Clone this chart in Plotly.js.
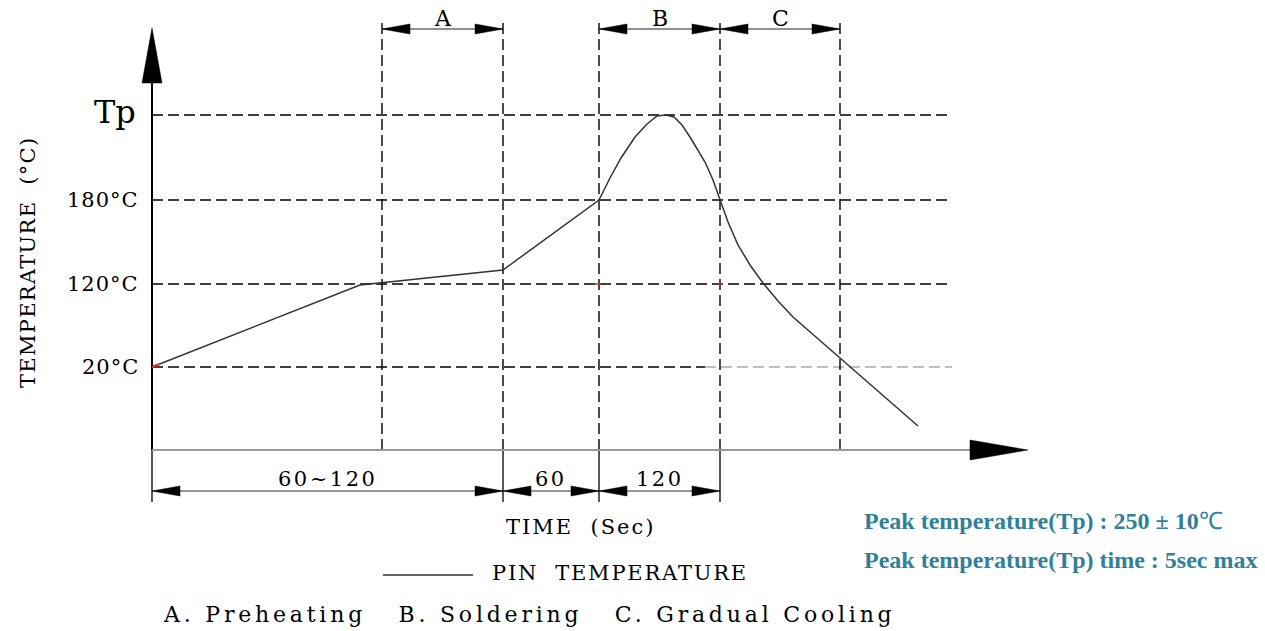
<!DOCTYPE html>
<html><head><meta charset="utf-8">
<script src="https://cdn.plot.ly/plotly-3.0.1.min.js"></script>
<style>html,body{margin:0;padding:0;background:#fff;} #chart{width:1265px;height:631px;}</style>
</head><body><div id="chart"></div>
<script>
// Diagram units: x = distance from time origin, y = height above time axis (schematic, not to scale)
const profileX = [0, 208, 351, 447, 458, 469, 483, 495, 505, 514, 522, 530, 538, 553, 561, 568, 576, 586, 598, 611, 626, 641, 663, 688, 766];
const profileY = [83, 165, 180, 250, 272, 292, 313, 326, 334, 335, 333, 325, 313, 288, 270, 250, 228, 205, 185, 167, 149, 133, 114, 92, 24];
const levelNames = ['20°C', '120°C', '180°C', 'Tp'];
const levelY = [83, 166, 250, 335];
const phaseX = [230, 351, 447, 568, 688];
const phaseNames = ['A', 'B', 'C'];
const phaseStart = [230, 447, 568];
const phaseEnd = [351, 568, 688];
const durationLabels = ['60~120', '60', '120'];
const durationStart = [0, 351, 447];
const durationEnd = [351, 447, 568];
const legendName = 'PIN TEMPERATURE';
const phaseLegend = 'A.\u00a0Preheating\u00a0\u00a0\u00a0B.\u00a0Soldering\u00a0\u00a0\u00a0C.\u00a0Gradual\u00a0Cooling';
const peakNotes = ['Peak temperature(Tp) : 250 ± 10<span style="font-weight:normal">℃</span>', 'Peak temperature(Tp) time : 5sec max'];
const xAxisTitle = 'TIME\u00a0\u00a0(Sec)';
const yAxisTitle = 'TEMPERATURE\u00a0\u00a0(°C)';

const FONT = 'DejaVu Serif, Liberation Serif, serif';
const DASH = '11px,5px';
const gridEnd = 800, grayStart = 553, topY = 428;
const shapes = [];
const annotations = [];
function seg(x0, y0, x1, y1, color, width, dash, layer) {
  shapes.push({type: 'line', xref: 'x', yref: 'y', x0, y0, x1, y1,
    line: {color, width, dash: dash || 'solid'}, layer: layer || 'above'});
}
function head(tx, ty, dx, dy, len, hw, color) {
  const bx = tx - dx * len, by = ty - dy * len, px = -dy, py = dx;
  shapes.push({type: 'path', xref: 'x', yref: 'y',
    path: `M${tx},${ty} L${bx + px * hw},${by + py * hw} L${bx - px * hw},${by - py * hw} Z`,
    fillcolor: color, line: {color, width: 0.5}, layer: 'above'});
}
function label(text, x, y, opts) {
  opts = opts || {};
  const ls = opts.ls;
  annotations.push({xref: 'x', yref: 'y', x, y, showarrow: false,
    text: ls ? `<span style="letter-spacing:${ls}px">${text}</span>` : text,
    xanchor: opts.xanchor || 'center', yanchor: 'middle', textangle: opts.angle || 0,
    font: {family: opts.family || FONT, size: opts.size || 20, color: opts.color || '#000',
      weight: opts.weight || 'normal'}});
}

// gridlines
levelY.forEach((y, i) => {
  if (i === 0) {
    seg(0, y, grayStart, y, '#000', 1.4, DASH, 'below');
    seg(grayStart, y, gridEnd, y, '#aaaaaa', 1.6, DASH, 'below');
  } else seg(0, y, gridEnd, y, '#000', 1.4, DASH, 'below');
  label(levelNames[i], i === 3 ? -14 : -11, y + (i === 3 ? 3 : 0),
    {xanchor: 'right', size: i === 3 ? 32 : 21, ls: i === 3 ? 0 : 1});
});
// phase boundaries
phaseX.forEach(x => seg(x, 0, x, topY, '#000', 1.4, DASH, 'below'));
// phase dimension arrows
phaseNames.forEach((n, i) => {
  const a = phaseStart[i], b = phaseEnd[i], y = 421;
  seg(a, y, b, y, '#222', 1.2);
  head(a, y, -1, 0, 28, 5, '#000');
  head(b, y, 1, 0, 28, 5, '#000');
  label(n, (a + b) / 2, 432, {size: 22});
});
// duration dimension arrows
durationStart.forEach(x => seg(x, 0, x, -52, '#000', 1.3));
seg(durationEnd[2], 0, durationEnd[2], -52, '#000', 1.3);
durationLabels.forEach((t, i) => {
  const a = durationStart[i], b = durationEnd[i], y = -41;
  seg(a, y, b, y, '#333', 1.2);
  head(a, y, -1, 0, 28, 5, '#000');
  head(b, y, 1, 0, 28, 5, '#000');
  label(t, (a + b) / 2, -29, {size: 21, ls: 2.5});
});
// axes
seg(0, 0, 0, 367, '#000', 2);
head(0, 422, 0, 1, 55, 10, '#000');
seg(0, 0, 822, 0, '#999', 2);
head(876, 0, 1, 0, 58, 10, '#000');
// small red marks
seg(0, 83, 8, 86, '#e03030', 2);
seg(443, 166, 449, 166, '#e03030', 1.5);
seg(566, 166, 570, 166, '#e03030', 1.5);
// legend
seg(231, -125, 321, -125, '#333', 1.4);
label(legendName.replace(' ', '\u00a0\u00a0'), 338, -123, {xanchor: 'left', size: 21, ls: 1.8});
label(phaseLegend, 377, -164, {size: 22, ls: 3.8});
label(xAxisTitle, 428, -77, {size: 21, ls: 2});
label(yAxisTitle, -124, 187, {size: 21, ls: 1.3, angle: -90});
// peak notes
peakNotes.forEach((t, i) => label(t, 710, -71 - 39 * i,
  {xanchor: 'left', size: 24, family: 'Liberation Serif, Times New Roman, serif', color: '#2f8197', weight: 'bold'}));

const traces = [{x: profileX, y: profileY, mode: 'lines', name: legendName,
  line: {color: '#333333', width: 1.5}, hoverinfo: 'skip', showlegend: false}];
const layout = {width: 1265, height: 631, margin: {l: 0, r: 0, t: 0, b: 0},
  paper_bgcolor: '#fff', plot_bgcolor: '#fff', showlegend: false,
  xaxis: {range: [-152, 1113], visible: false, fixedrange: true},
  yaxis: {range: [-181, 450], visible: false, fixedrange: true},
  shapes, annotations};
Plotly.newPlot('chart', traces, layout, {displayModeBar: false, staticPlot: true});
</script></body></html>
